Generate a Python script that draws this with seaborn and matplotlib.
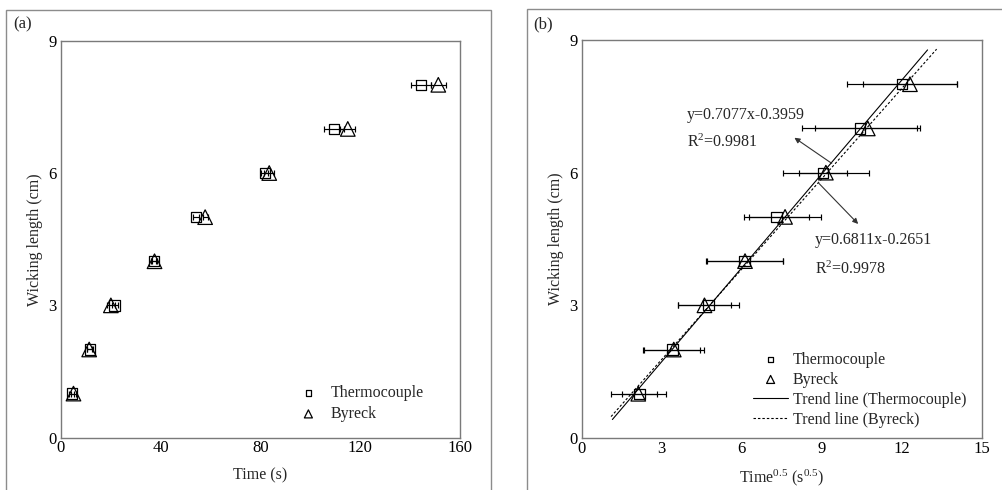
import matplotlib
matplotlib.use("Agg")
import matplotlib.pyplot as plt
import seaborn as sns
import numpy as np
from matplotlib.patches import Rectangle

# ---------------- data ----------------
wicking_length = [1, 2, 3, 4, 5, 6, 7, 8]

# panel (a): time (s)
thermo_time = [4.3, 11.5, 21.5, 37.2, 54.0, 81.7, 109.5, 144.5]
byreck_time = [5.0, 11.3, 20.0, 37.5, 57.8, 83.5, 115.0, 151.3]
thermo_time_err = [1.0, 1.2, 1.2, 1.0, 1.2, 1.5, 4.0, 4.0]
byreck_time_err = [1.0, 1.0, 1.5, 1.0, 1.0, 2.0, 3.0, 3.0]

# panel (b): time^0.5 (s^0.5)
thermo_sqrt = [2.17, 3.40, 4.75, 6.10, 7.30, 9.05, 10.42, 12.00]
byreck_sqrt = [2.12, 3.45, 4.60, 6.12, 7.62, 9.15, 10.72, 12.30]
thermo_sqrt_err = [0.67, 1.05, 1.15, 1.43, 1.20, 0.90, 2.15, 2.05]
byreck_sqrt_err = [1.03, 1.15, 0.98, 1.43, 1.34, 1.60, 1.97, 1.75]

# trend lines (from the fitted equations shown)
thermo_slope, thermo_intercept = 0.7077, -0.3959
byreck_slope, byreck_intercept = 0.6811, -0.2651
thermo_trend_x = [1.15, 12.96]
byreck_trend_x = [1.10, 13.30]

eq_thermo = ["y=0.7077x-0.3959", r"R$^2$=0.9981"]
eq_byreck = ["y=0.6811x-0.2651", r"R$^2$=0.9978"]

xticks_a = [0, 40, 80, 120, 160]
xticks_b = [0, 3, 6, 9, 12, 15]
yticks = [0, 3, 6, 9]

# ---------------- style ----------------
sns.set_theme(style="white")
plt.rcParams["font.family"] = ["Liberation Serif", "DejaVu Serif"]
plt.rcParams["mathtext.fontset"] = "custom"
plt.rcParams["mathtext.rm"] = "Liberation Serif"
plt.rcParams["mathtext.it"] = "Liberation Serif:italic"
plt.rcParams["mathtext.bf"] = "Liberation Serif:bold"

FS = 11.5
TFS = 12
SPINE = "#7a7a7a"

fig = plt.figure(figsize=(10.03, 4.9), dpi=100)

# outer panel frames
fig.patches.append(Rectangle((0.0057, -0.02), 0.4838, 1.0, transform=fig.transFigure,
                             fill=False, edgecolor="#8c8c8c", lw=1.0))
fig.patches.append(Rectangle((0.5251, -0.02), 0.49, 1.001, transform=fig.transFigure,
                             fill=False, edgecolor="#8c8c8c", lw=1.0))
fig.text(13 / 1003, 1 - 24 / 490, "(a)", fontsize=12, va="center", ha="left")
fig.text(533 / 1003, 1 - 24 / 490, "(b)", fontsize=12, va="center", ha="left")

axA = fig.add_axes([61 / 1003, 52.3 / 490, 399 / 1003, 397 / 490])
axB = fig.add_axes([581.7 / 1003, 52 / 490, 400.3 / 1003, 398 / 490])


def style_axis(ax, xt, xlim):
    ax.set_xlim(*xlim)
    ax.set_ylim(0, 9)
    ax.set_xticks(xt)
    ax.set_yticks(yticks)
    for s in ax.spines.values():
        s.set_color(SPINE)
        s.set_linewidth(1.0)
    ax.tick_params(direction="in", length=3, width=0.8, color="#333333",
                   labelsize=TFS, pad=2, labelcolor="black")
    ax.tick_params(axis="y", pad=3)


mk_kw = dict(facecolor="none", edgecolor="black", linewidth=0.9, zorder=4)
eb_kw = dict(fmt="none", ecolor="black", elinewidth=0.85, capsize=2.5, capthick=0.85, zorder=3)

# ---------------- panel (a) ----------------
axA.errorbar(thermo_time, wicking_length, xerr=thermo_time_err, **eb_kw)
axA.errorbar(byreck_time, wicking_length, xerr=byreck_time_err, **eb_kw)
sns.scatterplot(x=thermo_time, y=wicking_length, marker="s", s=55, ax=axA,
                label="Thermocouple", **mk_kw)
sns.scatterplot(x=byreck_time, y=wicking_length, marker="^", s=110, ax=axA,
                label="Byreck", **mk_kw)
style_axis(axA, xticks_a, (0, 160))
axA.set_xlabel("Time (s)", fontsize=FS, labelpad=8)
axA.set_ylabel("Wicking length (cm)", fontsize=FS, labelpad=4)
hA, lA = axA.get_legend_handles_labels()
axA.legend(hA, lA, loc="upper left", bbox_to_anchor=(0.60, 0.132), frameon=False,
           fontsize=FS, markerscale=0.55, handlelength=1.0, handletextpad=0.9,
           borderpad=0, borderaxespad=0, labelspacing=0.3)

# ---------------- panel (b) ----------------
axB.errorbar(thermo_sqrt, wicking_length, xerr=thermo_sqrt_err, **eb_kw)
axB.errorbar(byreck_sqrt, wicking_length, xerr=byreck_sqrt_err, **eb_kw)
sns.scatterplot(x=thermo_sqrt, y=wicking_length, marker="s", s=55, ax=axB,
                label="Thermocouple", **mk_kw)
sns.scatterplot(x=byreck_sqrt, y=wicking_length, marker="^", s=110, ax=axB,
                label="Byreck", **mk_kw)

tx = np.array(thermo_trend_x)
bx = np.array(byreck_trend_x)
sns.lineplot(x=tx, y=thermo_slope * tx + thermo_intercept, ax=axB, color="black",
             lw=0.8, label="Trend line (Thermocouple)", zorder=2)
sns.lineplot(x=bx, y=byreck_slope * bx + byreck_intercept, ax=axB, color="black",
             lw=0.8, label="Trend line (Byreck)", zorder=2)
axB.lines[-1].set_dashes((2.2, 1.8))

style_axis(axB, xticks_b, (0, 15))
axB.set_xlabel(r"Time$^{0.5}$ (s$^{0.5}$)", fontsize=FS, labelpad=8)
axB.set_ylabel("Wicking length (cm)", fontsize=FS, labelpad=4)

# annotations
axB.text(3.93, 7.30, eq_thermo[0], fontsize=FS, va="center", ha="left")
axB.text(3.93, 6.68, eq_thermo[1], fontsize=FS, va="center", ha="left")
axB.annotate("", xy=(7.97, 6.79), xytext=(9.37, 6.21),
             arrowprops=dict(arrowstyle="-|>", color="#333333", lw=0.8,
                             mutation_scale=8, shrinkA=0, shrinkB=0))
axB.text(8.74, 4.48, eq_byreck[0], fontsize=FS, va="center", ha="left")
axB.text(8.74, 3.82, eq_byreck[1], fontsize=FS, va="center", ha="left")
axB.annotate("", xy=(10.36, 4.84), xytext=(8.87, 5.77),
             arrowprops=dict(arrowstyle="-|>", color="#333333", lw=0.8,
                             mutation_scale=8, shrinkA=0, shrinkB=0))

hB, lB = axB.get_legend_handles_labels()
axB.legend(hB, lB, loc="upper left", bbox_to_anchor=(0.428, 0.217), frameon=False,
           fontsize=FS, markerscale=0.55, handlelength=2.2, handletextpad=0.3,
           borderpad=0, borderaxespad=0, labelspacing=0.25)

fig.savefig("out.png", dpi=100)
